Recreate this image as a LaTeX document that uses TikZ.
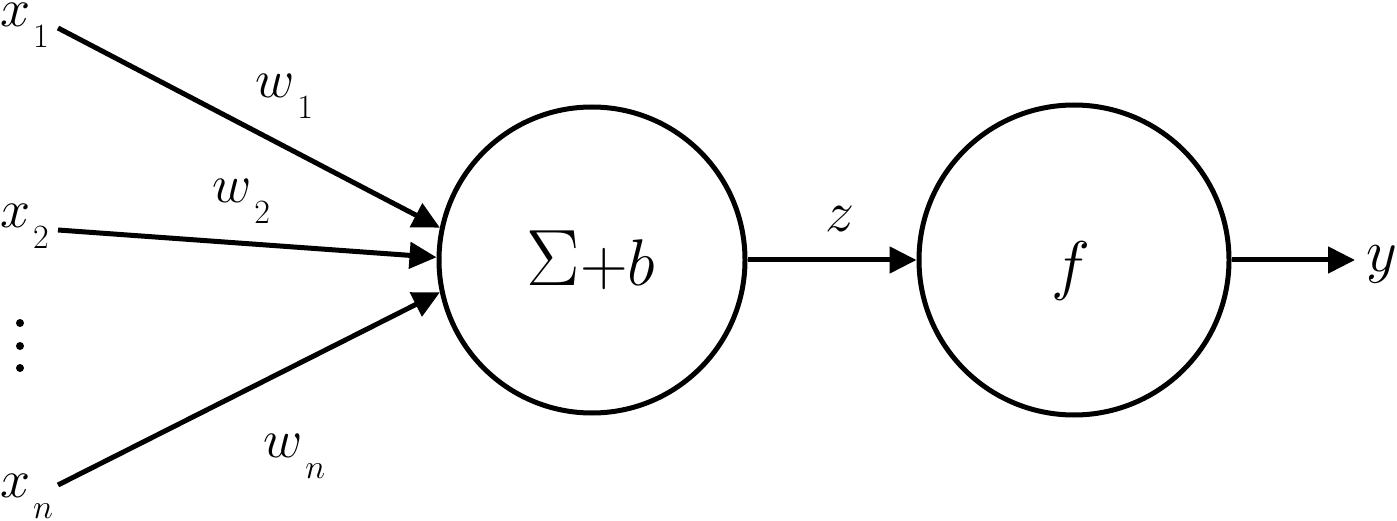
\RequirePackage{fix-cm}
\documentclass[tikz,border=0pt]{standalone}
\usetikzlibrary{arrows.meta}
\newcommand{\fs}[1]{\fontsize{#1}{#1}\selectfont}
\newcommand{\subvar}[2]{$#1$\hspace{3pt}\raisebox{-21pt}{\fs{34}$#2$}}

\begin{document}
\begin{tikzpicture}[x=1pt,y=-1pt,
  lbl/.style={anchor=base west,inner sep=0pt,font=\fs{54}},
  unit/.style={circle,draw,line width=5pt,minimum size=306pt,inner sep=0pt},
  wire/.style={line width=5pt,-{Triangle[length=27pt,width=26pt]}}]
      \useasboundingbox (0,0) rectangle (1397,521);
      \node [unit] (sum) at (592,260) {};
      \node [unit,minimum size=310pt] (act) at (1074,260) {};
      \node [inner sep=0pt] (sumlbl) at (591,260) {{\fs{80}$\Sigma$}{\fs{66}$+b$}};
      \node [inner sep=0pt,font=\fs{66}] (flbl) at (1071,271) {$f$};

      \node [lbl] (x1) at (0,27) {\subvar{x}{1}};
      \node [lbl] (x2) at (0,228) {\subvar{x}{2}};
      \node [lbl] (xn) at (0,497) {\subvar{x}{n}};
      \node [lbl] (w1) at (255,98) {\subvar{w}{1}};
      \node [lbl] (w2) at (212,203) {\subvar{w}{2}};
      \node [lbl] (wn) at (263,457) {\subvar{w}{n}};
      \node [lbl,font=\fs{58}] (z) at (825,232) {$z$};
      \node [lbl,font=\fs{60}] (y) at (1366,272) {$y$};

      \coordinate (s1) at (58,28);
      \coordinate (s2) at (58,230);
      \coordinate (sn) at (58,485);
      \coordinate (out) at (1355,260);
      \draw [wire] (s1) -- (sum.168);
      \draw [wire] (s2) -- (sum.179);
      \draw [wire] (sn) -- (sum.192);
      \draw [wire] (sum.east) -- (act.west);
      \draw [wire] (act.east) -- (out);
      \foreach \y in {323,346,368}
      \fill (20,\y) circle (4pt);
    \end{tikzpicture}
\end{document}
